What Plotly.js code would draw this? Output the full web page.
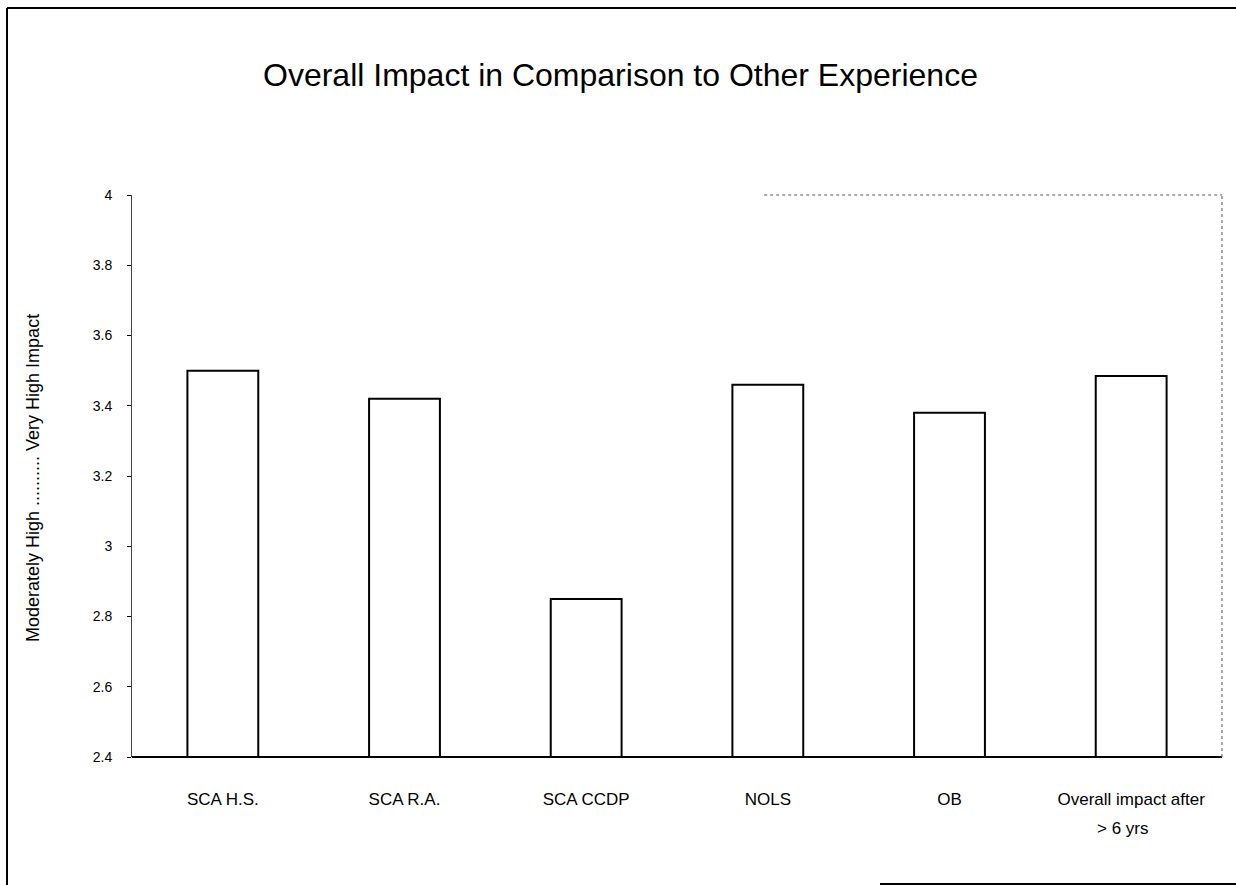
<!DOCTYPE html>
<html>
<head>
<meta charset="utf-8">
<script src="https://cdn.plot.ly/plotly-3.0.1.min.js"></script>
<style>
html,body{margin:0;padding:0;background:#fff;}
#chart{width:1236px;height:885px;}
</style>
</head>
<body>
<div id="chart"></div>
<script>
const categories = ["SCA H.S.", "SCA R.A.", "SCA CCDP", "NOLS", "OB", "Overall impact after > 6 yrs"];
const tickLabels = ["SCA H.S.", "SCA R.A.", "SCA CCDP", "NOLS", "OB", "Overall impact after"];
const lastLabelLine2 = "> 6 yrs";
const values = [3.50, 3.42, 2.85, 3.46, 3.38, 3.485];
const yTickVals = [2.4, 2.6, 2.8, 3.0, 3.2, 3.4, 3.6, 3.8, 4.0];
const yTickText = ["2.4", "2.6", "2.8", "3", "3.2", "3.4", "3.6", "3.8", "4"];
const yBase = 2.4;
const chartTitle = "Overall Impact in Comparison to Other Experience";
const yTitle = "Moderately High .......... Very High Impact";

const font = "Liberation Sans, Arial, Helvetica, sans-serif";

const trace = {
  type: "bar",
  x: categories,
  y: values.map(v => v - yBase),
  base: yBase,
  width: 0.39,
  marker: {color: "#ffffff", line: {color: "#000000", width: 2}},
  hoverinfo: "x+y"
};

const layout = {
  width: 1236, height: 885,
  margin: {l: 132, r: 14, t: 195, b: 128},
  paper_bgcolor: "#ffffff", plot_bgcolor: "#ffffff",
  showlegend: false,
  title: {
    text: chartTitle,
    font: {family: font, size: 32, color: "#000"},
    x: 0.502, xanchor: "center",
    y: 1 - 75/885, yanchor: "middle"
  },
  xaxis: {
    type: "category",
    tickvals: categories,
    ticktext: tickLabels,
    showline: false,
    ticks: "",
    tickfont: {family: font, size: 17, color: "#000"},
    ticklabelstandoff: 30,
    showgrid: false, zeroline: false,
    fixedrange: true
  },
  yaxis: {
    range: [2.4, 4.0],
    tickvals: yTickVals,
    ticktext: yTickText,
    tickfont: {family: font, size: 14, color: "#000"},
    ticks: "outside", ticklen: 4, tickcolor: "#000", tickwidth: 1,
    ticklabelstandoff: 12,
    showline: true, linecolor: "#444", linewidth: 1,
    showgrid: false, zeroline: false,
    fixedrange: true
  },
  annotations: [{
    text: yTitle,
    xref: "paper", yref: "paper",
    x: (33 - 132) / 1090, y: (757 - 478) / 562,
    xanchor: "center", yanchor: "middle",
    textangle: -90, showarrow: false,
    font: {family: font, size: 18, color: "#000"}
  }, {
    text: lastLabelLine2,
    xref: "x", yref: "paper",
    x: categories[categories.length - 1], y: (757 - 828) / 562,
    xanchor: "center", yanchor: "middle", xshift: -8,
    showarrow: false,
    font: {family: font, size: 17, color: "#000"}
  }],
  shapes: [
    {type: "line", xref: "paper", yref: "paper", x0: 0, x1: 1, y0: 0, y1: 0, line: {color: "#000", width: 2}},
    {type: "line", xref: "paper", yref: "paper", x0: 0.58, x1: 1, y0: 1, y1: 1, line: {color: "#555", width: 1, dash: "dot"}},
    {type: "line", xref: "paper", yref: "paper", x0: 1, x1: 1, y0: 0, y1: 1, line: {color: "#555", width: 1, dash: "dot"}},
    {type: "line", xref: "paper", yref: "paper", x0: (7 - 132) / 1090, x1: (7 - 132) / 1090, y0: (757 - 885) / 562, y1: (757 - 8) / 562, line: {color: "#000", width: 2}},
    {type: "line", xref: "paper", yref: "paper", x0: (7 - 132) / 1090, x1: (1236 - 132) / 1090, y0: (757 - 8) / 562, y1: (757 - 8) / 562, line: {color: "#000", width: 2}},
    {type: "line", xref: "paper", yref: "paper", x0: (880 - 132) / 1090, x1: (1236 - 132) / 1090, y0: (757 - 884) / 562, y1: (757 - 884) / 562, line: {color: "#000", width: 2}}
  ]
};

Plotly.newPlot("chart", [trace], layout, {displayModeBar: false, staticPlot: true});
</script>
</body>
</html>
